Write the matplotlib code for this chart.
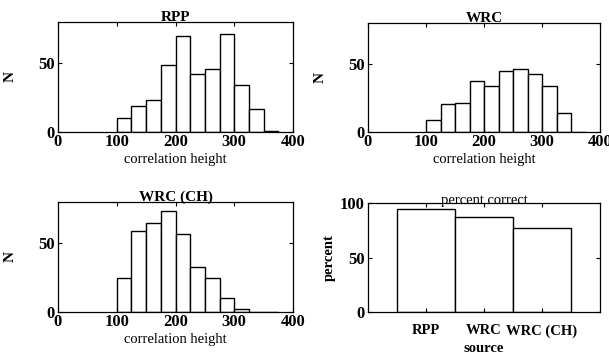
import matplotlib
matplotlib.use("Agg")
import matplotlib.pyplot as plt

plt.rcParams['font.family'] = ['Liberation Serif', 'DejaVu Serif']

# histogram data (bins of width 25)
bin_lefts = [100, 125, 150, 175, 200, 225, 250, 275, 300, 325, 350]
bin_width = 25
rpp_counts = [10.5, 19, 23, 49, 69.5, 42, 46, 71, 34, 16.5, 0.8]
wrc_counts = [9, 20.5, 21, 37.5, 33.5, 45, 46, 42.5, 33.5, 14, 0]
wrcch_counts = [24.5, 59, 65, 73.5, 56.5, 32.5, 25, 10.5, 2, 0, 0]

# percent correct
sources = ["RPP", "WRC", "WRC (CH)"]
percent = [94.5, 87, 77.5]

xticks_hist = [0, 100, 200, 300, 400]
yticks_hist = [0, 50]
yticks_pct = [0, 50, 100]

W, H = 609, 355
fig = plt.figure(figsize=(W / 100, H / 100), dpi=100)


def px_axes(l, t, r, b):
    return fig.add_axes([l / W, 1 - b / H, (r - l) / W, (b - t) / H])


def style(ax):
    ax.tick_params(direction='in', top=True, right=True, length=3, width=0.8,
                   labelsize=12, pad=1.5)
    ax.tick_params(axis='y', pad=2.5)
    for lab in ax.get_xticklabels() + ax.get_yticklabels():
        lab.set_fontweight('bold')
    for s in ax.spines.values():
        s.set_linewidth(0.9)


def hist_panel(ax, counts, title):
    ax.bar(bin_lefts, counts, width=bin_width, align='edge',
           facecolor='white', edgecolor='black', linewidth=1.0)
    ax.set_xlim(0, 400)
    ax.set_ylim(0, 80)
    ax.set_xticks(xticks_hist)
    ax.set_yticks(yticks_hist)
    ax.set_title(title, fontsize=11, fontweight='bold', pad=1)
    ax.set_xlabel("correlation height", fontsize=10.5, labelpad=2)
    ax.set_ylabel("N", fontsize=11, fontweight='bold', labelpad=15)
    style(ax)


ax1 = px_axes(58, 22, 293, 132)
hist_panel(ax1, rpp_counts, "RPP")
ax2 = px_axes(368, 23, 600, 132)
hist_panel(ax2, wrc_counts, "WRC")
ax3 = px_axes(58, 202, 293, 312)
hist_panel(ax3, wrcch_counts, "WRC (CH)")

ax4 = px_axes(368, 203, 600, 312)
xpos = list(range(1, len(sources) + 1))
ax4.bar(xpos, percent, width=1.0, facecolor='white', edgecolor='black',
        linewidth=1.0)
ax4.set_xlim(0, 4)
ax4.set_ylim(0, 100)
ax4.set_xticks(xpos)
ax4.set_xticklabels(sources)
ax4.set_yticks(yticks_pct)
ax4.set_title("percent correct", fontsize=10.5, pad=-1)
ax4.set_xlabel("source", fontsize=10.5, fontweight='bold', labelpad=3)
ax4.set_ylabel("percent", fontsize=10.5, fontweight='bold', labelpad=3)
style(ax4)
ax4.tick_params(axis='x', pad=9, labelsize=10.5)

fig.savefig("out.png", dpi=100)
